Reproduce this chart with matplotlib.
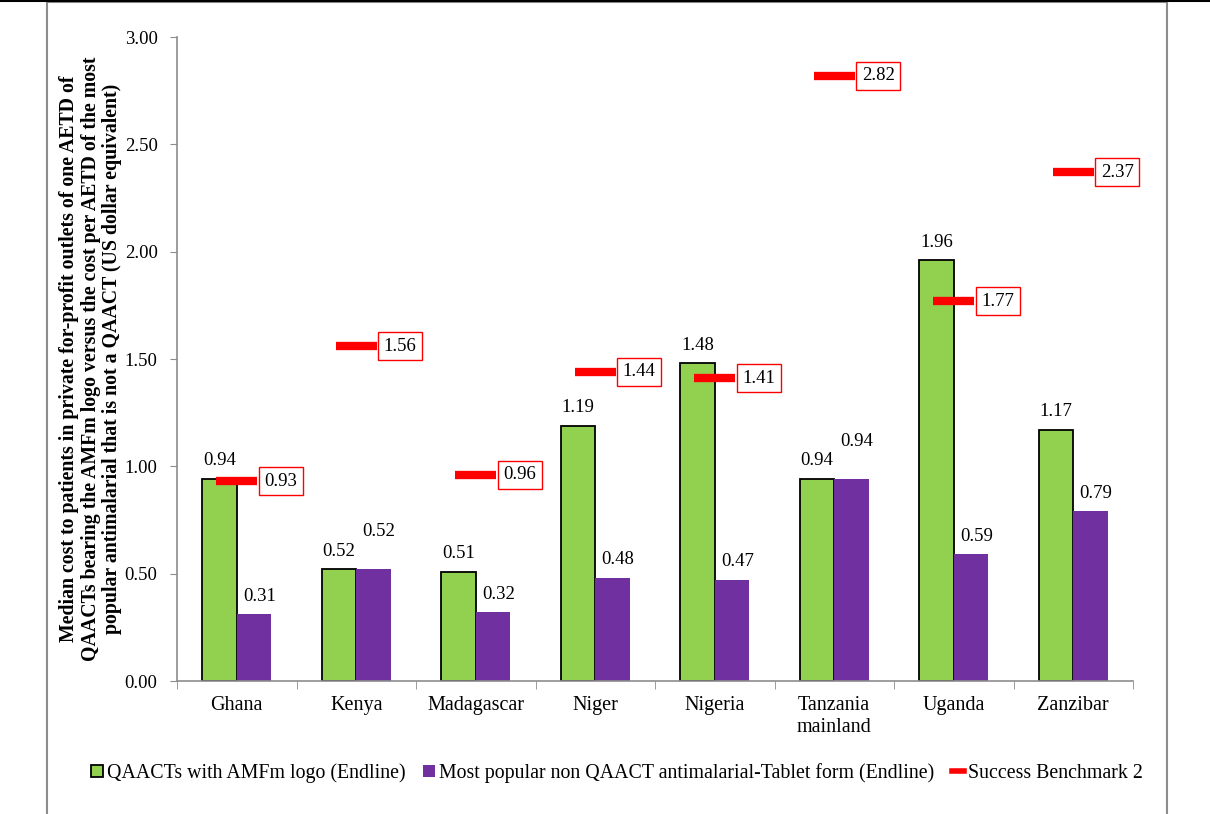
import numpy as np
import matplotlib.pyplot as plt
from matplotlib.lines import Line2D
from matplotlib.patches import Patch, Rectangle

plt.rcParams['font.family'] = ['Liberation Serif', 'DejaVu Serif']

# data
countries = ['Ghana', 'Kenya', 'Madagascar', 'Niger', 'Nigeria',
             'Tanzania\nmainland', 'Uganda', 'Zanzibar']
qaact = [0.94, 0.52, 0.51, 1.19, 1.48, 0.94, 1.96, 1.17]
non_qaact = [0.31, 0.52, 0.32, 0.48, 0.47, 0.94, 0.59, 0.79]
benchmark = [0.93, 1.56, 0.96, 1.44, 1.41, 2.82, 1.77, 2.37]
# purple labels that were nudged up in the original
raised = [False, True, False, False, False, True, False, False]

green = '#92D050'
purple = '#7030A0'
red = '#FF0000'
grey = '#8C8C8C'

fig = plt.figure(figsize=(12.1, 8.14), dpi=100)
ax = fig.add_axes([177 / 1210, 1 - 681 / 814, 956 / 1210, 644 / 814])

x = np.arange(len(countries))
w = 0.29

ax.bar(x - w / 2, qaact, w, color=green, edgecolor='black', linewidth=1.3, zorder=2)
ax.bar(x + w / 2, non_qaact, w, color=purple, edgecolor='none', zorder=2)

for xi, v in zip(x, qaact):
    ax.annotate(f'{v:.2f}', (xi - w / 2, v), xytext=(0, 7),
                textcoords='offset points', ha='center', va='bottom', fontsize=13.5)
for xi, v, r in zip(x, non_qaact, raised):
    ax.annotate(f'{v:.2f}', (xi + w / 2, v), xytext=(4, 21 if r else 7),
                textcoords='offset points', ha='center', va='bottom', fontsize=13.5)

# success benchmark markers with boxed labels
for xi, v in zip(x, benchmark):
    ax.plot([xi - 0.17, xi + 0.17], [v, v], color=red, linewidth=6,
            solid_capstyle='butt', zorder=4)
    ax.text(xi + 0.23, v, f'{v:.2f}', ha='left', va='center', fontsize=13.5,
            zorder=5, bbox=dict(boxstyle='square,pad=0.3', facecolor='white',
                                edgecolor=red, linewidth=1))

ax.set_xlim(-0.5, len(countries) - 0.5)
ax.set_ylim(0, 3.0)
yt = np.arange(0, 3.01, 0.5)
ax.set_yticks(yt)
ax.set_yticklabels([f'{t:.2f}' for t in yt], fontsize=13.5)
ax.set_xticks(x)
ax.set_xticklabels(countries, fontsize=14.5, linespacing=1.2)
ax.tick_params(axis='x', length=0, pad=11)
ax.set_xticks(np.arange(-0.5, len(countries), 1), minor=True)
ax.tick_params(axis='x', which='minor', length=6, color=grey, direction='out')
ax.tick_params(axis='y', length=5, color=grey, direction='out', pad=9)

for s in ['top', 'right']:
    ax.spines[s].set_visible(False)
for s in ['left', 'bottom']:
    ax.spines[s].set_color(grey)
    ax.spines[s].set_linewidth(1.2)

fig.text(91 / 1210, 1 - 359 / 814,
         'Median cost to patients in private for-profit outlets of one AETD of\n'
         'QAACTs bearing the AMFm logo versus the cost per AETD of the most\n'
         'popular antimalarial that is not a QAACT (US dollar equivalent)',
         rotation=90, ha='center', va='center', fontsize=14.3,
         fontweight='bold', linespacing=1.1)

handles = [Patch(facecolor=green, edgecolor='black', linewidth=1.3),
           Patch(facecolor=purple, edgecolor='none'),
           Line2D([0], [0], color=red, linewidth=4)]
labels = ['QAACTs with AMFm logo (Endline)',
          'Most popular non QAACT antimalarial-Tablet form (Endline)',
          'Success Benchmark 2']
fig.legend(handles, labels, loc='center', bbox_to_anchor=(617 / 1210, 1 - 773 / 814),
           ncol=3, frameon=False, fontsize=14.3, handlelength=0.6, handleheight=0.6,
           handletextpad=0.2, columnspacing=0.9)

# page frame around the chart
fig.add_artist(Rectangle((47 / 1210, -0.01), (1167 - 47) / 1210, 1 - 1.5 / 814 + 0.01,
                         transform=fig.transFigure, fill=False, edgecolor=grey,
                         linewidth=1.5))
fig.add_artist(Line2D([0, 1], [1 - 1 / 814, 1 - 1 / 814], transform=fig.transFigure,
                      color='black', linewidth=1.5))

fig.savefig('out.png', dpi=100)
